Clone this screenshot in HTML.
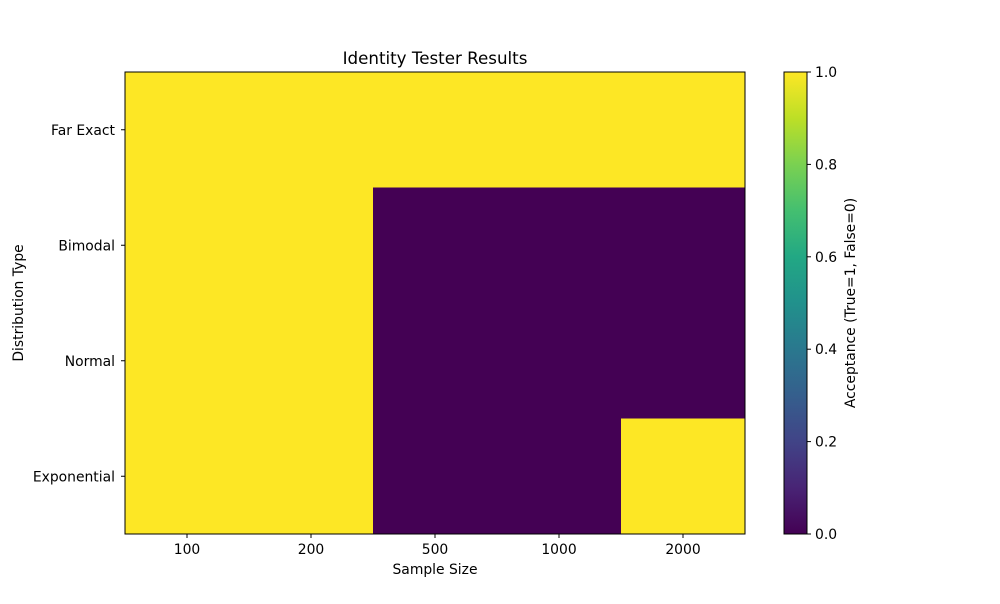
<!DOCTYPE html>
<html><head><meta charset="utf-8">
<style>
body{margin:0;background:#fff;font-family:"DejaVu Sans","Liberation Sans",sans-serif;}
svg text{font-family:"DejaVu Sans","Liberation Sans",sans-serif;}
</style></head>
<body>
<svg id="chart" width="1000" height="600" xmlns="http://www.w3.org/2000/svg">
<defs>
<linearGradient id="viridis" x1="0" y1="1" x2="0" y2="0">
<stop offset="0" stop-color="#440154"/>
<stop offset="0.1" stop-color="#482475"/>
<stop offset="0.2" stop-color="#414487"/>
<stop offset="0.3" stop-color="#355f8d"/>
<stop offset="0.4" stop-color="#2a788e"/>
<stop offset="0.5" stop-color="#21918c"/>
<stop offset="0.6" stop-color="#22a884"/>
<stop offset="0.7" stop-color="#44bf70"/>
<stop offset="0.8" stop-color="#7ad151"/>
<stop offset="0.9" stop-color="#bddf26"/>
<stop offset="1" stop-color="#fde725"/>
</linearGradient>
</defs>
<text x="435" y="64" text-anchor="middle" font-size="16.7">Identity Tester Results</text>
<g id="cells"></g>
<rect x="125" y="72" width="620" height="462" fill="none" stroke="#000" stroke-width="1"/>
<g id="axes"></g>
<text x="435" y="574" text-anchor="middle" font-size="13.9">Sample Size</text>
<text transform="translate(23,303) rotate(-90)" text-anchor="middle" font-size="13.9">Distribution Type</text>
<rect x="784" y="72" width="23" height="462" fill="url(#viridis)" stroke="#000" stroke-width="1"/>
<g id="cbticks"></g>
<text transform="translate(855,303) rotate(-90)" text-anchor="middle" font-size="13.9">Acceptance (True=1, False=0)</text>
</svg>
<script>
const sampleSizes = ["100","200","500","1000","2000"];
const distributions = ["Far Exact","Bimodal","Normal","Exponential"];
const rowFarExact = [1,1,1,1,1];
const rowBimodal = [1,1,0,0,0];
const rowNormal = [1,1,0,0,0];
const rowExponential = [1,1,0,0,1];
const cbTicks = ["0.0","0.2","0.4","0.6","0.8","1.0"];

const rows = [rowFarExact,rowBimodal,rowNormal,rowExponential];
const NS="http://www.w3.org/2000/svg";
const px0=125,px1=745,py0=72,py1=534;
const cw=(px1-px0)/sampleSizes.length, rh=(py1-py0)/distributions.length;
const xs=i=>px0+i*cw, ys=j=>py0+j*rh;
const cbY=v=>534-v*462;
const color=v=>v>=0.5?"#fde725":"#440154";
function mk(tag,attrs,parent){const e=document.createElementNS(NS,tag);for(const k in attrs)e.setAttribute(k,attrs[k]);parent.appendChild(e);return e;}
const cells=document.getElementById("cells"), axes=document.getElementById("axes"), cbt=document.getElementById("cbticks");
rows.forEach((r,j)=>r.forEach((v,i)=>{
  const c=mk("rect",{x:xs(i),y:ys(j),width:cw+0.5,height:rh+0.5,fill:color(v)},cells);
  
  
}));
sampleSizes.forEach((s,i)=>{
  const cx=xs(i)+cw/2;
  const t=mk("line",{x1:cx,x2:cx,y1:534,y2:538,stroke:"#000"},axes);
  
  
  const l=mk("text",{x:cx,y:554,"text-anchor":"middle","font-size":13.9},axes);l.textContent=s;
  
  
});
distributions.forEach((d,j)=>{
  const cy=ys(j)+rh/2;
  const t=mk("line",{x1:121,x2:125,y1:cy,y2:cy,stroke:"#000"},axes);
  
  
  const l=mk("text",{x:115,y:cy+5,"text-anchor":"end","font-size":13.9},axes);l.textContent=d;
  
  
});
cbTicks.forEach(s=>{
  const y=cbY(parseFloat(s));
  const t=mk("line",{x1:807,x2:811,y1:y,y2:y,stroke:"#000"},cbt);
  
  
  const l=mk("text",{x:815,y:y+5,"font-size":13.9},cbt);l.textContent=s;
  
  
});
</script>
</body></html>
